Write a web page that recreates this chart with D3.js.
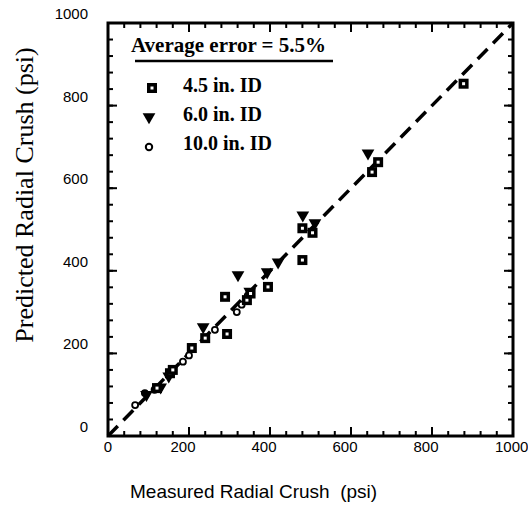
<!DOCTYPE html>
<html lang="en">
<head>
    <meta charset="UTF-8">
    <title>Radial Crush</title>
    <script src="https://d3js.org/d3.v7.min.js"></script>
    <style>
        body { margin: 0; background: #fff; }
        .tick-label { font: 15px "Liberation Sans", Arial, sans-serif; fill: #000; }
        .x-title { font: 19px "Liberation Sans", Arial, sans-serif; white-space: pre; }
        .y-title { font: 26px "Liberation Serif", "Times New Roman", serif; }
        .legend text { font: bold 20px "Liberation Serif", "Times New Roman", serif; }
        .legend text.title { font-size: 21px; }
    </style>
</head>
<body>
<script>
    var width = 528, height = 508;

    // measured vs predicted (psi)
    var id45 = [[121,116],[153,152],[160,160],[207,213],[240,237],[294,247],[289,337],[343,329],
                [352,345],[395,361],[480,503],[505,492],[480,426],[652,639],[667,663],[878,853]];
    var id60 = [[95,100],[130,118],[150,145],[235,264],[321,390],[350,350],[393,397],[420,421],
                [481,535],[511,516],[642,685]];
    var id100 = [[67,75],[91,104],[115,112],[185,180],[200,195],[264,257],[318,300],[330,318],[345,340]];

    var majorTicks = [0, 200, 400, 600, 800, 1000];
    var minorTicks = d3.range(0, 1001, 40);
    var legendLabels = ["4.5 in. ID", "6.0 in. ID", "10.0 in. ID"];
    var legendTitle = "Average error = 5.5%";

    var x = d3.scaleLinear().domain([0, 1000]).range([108, 513]);
    var y = d3.scaleLinear().domain([0, 1000]).range([436, 23]);

    var svg = d3.select("body").append("svg")
        .attr("width", width)
        .attr("height", height);

    // ticks, inward on all four sides
    var ticks = svg.append("g").attr("stroke", "#000").attr("stroke-width", 2);
    function tickSet(vals, len) {
        vals.forEach(function(v) {
            ticks.append("line").attr("x1", x(v)).attr("x2", x(v)).attr("y1", y(0)).attr("y2", y(0) - len);
            ticks.append("line").attr("x1", x(v)).attr("x2", x(v)).attr("y1", y(1000)).attr("y2", y(1000) + len);
            ticks.append("line").attr("y1", y(v)).attr("y2", y(v)).attr("x1", x(0)).attr("x2", x(0) + len);
            ticks.append("line").attr("y1", y(v)).attr("y2", y(v)).attr("x1", x(1000)).attr("x2", x(1000) - len);
        });
    }
    tickSet(minorTicks, 5);
    tickSet(majorTicks, 9);

    svg.append("rect")
        .attr("x", x(0)).attr("y", y(1000))
        .attr("width", x(1000) - x(0)).attr("height", y(0) - y(1000))
        .attr("fill", "none").attr("stroke", "#000").attr("stroke-width", 3);

    // tick labels
    svg.selectAll(".xl").data(majorTicks).enter().append("text")
        .attr("class", "tick-label")
        .attr("x", function(d) { return x(d) - (d === 0 ? 0 : 6); })
        .attr("y", 452)
        .attr("text-anchor", function(d) { return d === 1000 ? "start" : "middle"; })
        .attr("dx", function(d) { return d === 1000 ? -12 : 0; })
        .text(function(d) { return d; });

    svg.selectAll(".yl").data(majorTicks).enter().append("text")
        .attr("class", "tick-label")
        .attr("x", 88)
        .attr("y", function(d) { return y(d) - 4; })
        .attr("text-anchor", "end")
        .text(function(d) { return d; });

    // parity line
    svg.append("line")
        .attr("x1", x(0)).attr("y1", y(0))
        .attr("x2", x(1000)).attr("y2", y(1000))
        .attr("stroke", "#000").attr("stroke-width", 3.5)
        .attr("stroke-dasharray", "14,8");

    var tri = d3.symbol().type(d3.symbolTriangle).size(70)();

    svg.selectAll(".c").data(id100).enter().append("circle")
        .attr("cx", function(d) { return x(d[0]); })
        .attr("cy", function(d) { return y(d[1]); })
        .attr("r", 3).attr("fill", "#fff").attr("stroke", "#000").attr("stroke-width", 1.8);

    svg.selectAll(".t").data(id60).enter().append("path")
        .attr("d", tri)
        .attr("transform", function(d) { return "translate(" + x(d[0]) + "," + y(d[1]) + ") rotate(180)"; })
        .attr("fill", "#000");

    svg.selectAll(".s").data(id45).enter().append("rect")
        .attr("x", function(d) { return x(d[0]) - 3.25; })
        .attr("y", function(d) { return y(d[1]) - 3.25; })
        .attr("width", 6.5).attr("height", 6.5)
        .attr("fill", "#fff").attr("stroke", "#000").attr("stroke-width", 3.5);

    // legend
    var legend = svg.append("g").attr("class", "legend");
    legend.append("text").attr("class", "title").attr("x", 131).attr("y", 52).text(legendTitle);
    legend.append("line").attr("x1", 135).attr("x2", 333).attr("y1", 61).attr("y2", 61)
        .attr("stroke", "#000").attr("stroke-width", 2.5);
    legend.append("rect").attr("x", 148.75).attr("y", 84.75).attr("width", 6.5).attr("height", 6.5)
        .attr("fill", "#fff").attr("stroke", "#000").attr("stroke-width", 3.5);
    legend.append("path").attr("d", tri).attr("transform", "translate(149,117) rotate(180)");
    legend.append("circle").attr("cx", 149).attr("cy", 147).attr("r", 3.2)
        .attr("fill", "#fff").attr("stroke", "#000").attr("stroke-width", 2);
    legend.selectAll(".ll").data(legendLabels).enter().append("text")
        .attr("x", 183)
        .attr("y", function(d, i) { return 92 + i * 29; })
        .text(function(d) { return d; });

    // axis titles
    svg.append("text").attr("class", "x-title")
        .attr("x", 130).attr("y", 498)
        .text("Measured Radial Crush  (psi)");

    svg.append("text").attr("class", "y-title")
        .attr("transform", "translate(33,195) rotate(-90)")
        .attr("text-anchor", "middle")
        .text("Predicted Radial Crush (psi)");
</script>
</body>
</html>
